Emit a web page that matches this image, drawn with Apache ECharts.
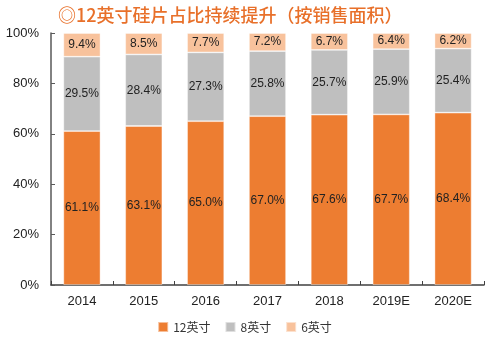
<!DOCTYPE html>
<html><head><meta charset="utf-8">
<script src="https://cdn.jsdelivr.net/npm/echarts@6/dist/echarts.min.js"></script>
<style>html,body{margin:0;padding:0;background:#fff}#c{width:489px;height:340px}</style>
</head><body><div id="c"></div>
<script>
const categories = ['2014','2015','2016','2017','2018','2019E','2020E'];
const s12 = [61.1, 63.1, 65.0, 67.0, 67.6, 67.7, 68.4];
const s8 = [29.5, 28.4, 27.3, 25.8, 25.7, 25.9, 25.4];
const s6 = [9.4, 8.5, 7.7, 7.2, 6.7, 6.4, 6.2];
const seriesNames = ['12英寸', '8英寸', '6英寸'];
const yTicks = [0, 20, 40, 60, 80, 100];

const colors = ['#ED7D31', '#BFBFBF', '#F8C29C'];
const chart = echarts.init(document.getElementById('c'));
const lbl = {show:true, position:'inside', color:'#222', fontSize:12, fontFamily:'Liberation Sans, Arial', formatter: p => p.value.toFixed(1) + '%'};
function mk(name, data, i){
  return {name, type:'bar', stack:'a', data, barWidth:'60%',
    itemStyle:{color:colors[i], borderColor:'rgba(255,255,255,0.5)', borderWidth:0.8},
    label:lbl};
}
chart.setOption({
  animation:false,
  title:{text:'◎12英寸硅片占比持续提升（按销售面积）', left:53, top:1,
    textStyle:{color:'#E8702A', fontSize:18, fontWeight:500, fontFamily:'Noto Sans CJK SC'}},
  grid:{left:51, right:5, top:33, bottom:55},
  legend:{bottom:2, left:'center', itemWidth:10, itemHeight:10, itemGap:14,
    icon:'rect', textStyle:{fontSize:12, color:'#333', fontFamily:'Noto Sans CJK SC'}},
  xAxis:{type:'category', data:categories,
    axisLine:{lineStyle:{color:'#404040', width:1.5}},
    axisTick:{show:true, inside:true, length:4, lineStyle:{color:'#404040'}},
    axisLabel:{color:'#222', fontSize:13, margin:10, fontFamily:'Liberation Sans, Arial'}},
  yAxis:{type:'value', min:0, max:100, interval:20,
    axisLine:{show:true, lineStyle:{color:'#595959', width:1.5}},
    axisTick:{show:true, inside:true, length:4, lineStyle:{color:'#595959'}},
    splitLine:{show:false},
    axisLabel:{color:'#222', fontSize:13, margin:12, fontFamily:'Liberation Sans, Arial',
      formatter: v => yTicks.includes(v) ? v + '%' : ''}},
  series:[mk(seriesNames[0], s12, 0), mk(seriesNames[1], s8, 1), mk(seriesNames[2], s6, 2)]
});
</script></body></html>
